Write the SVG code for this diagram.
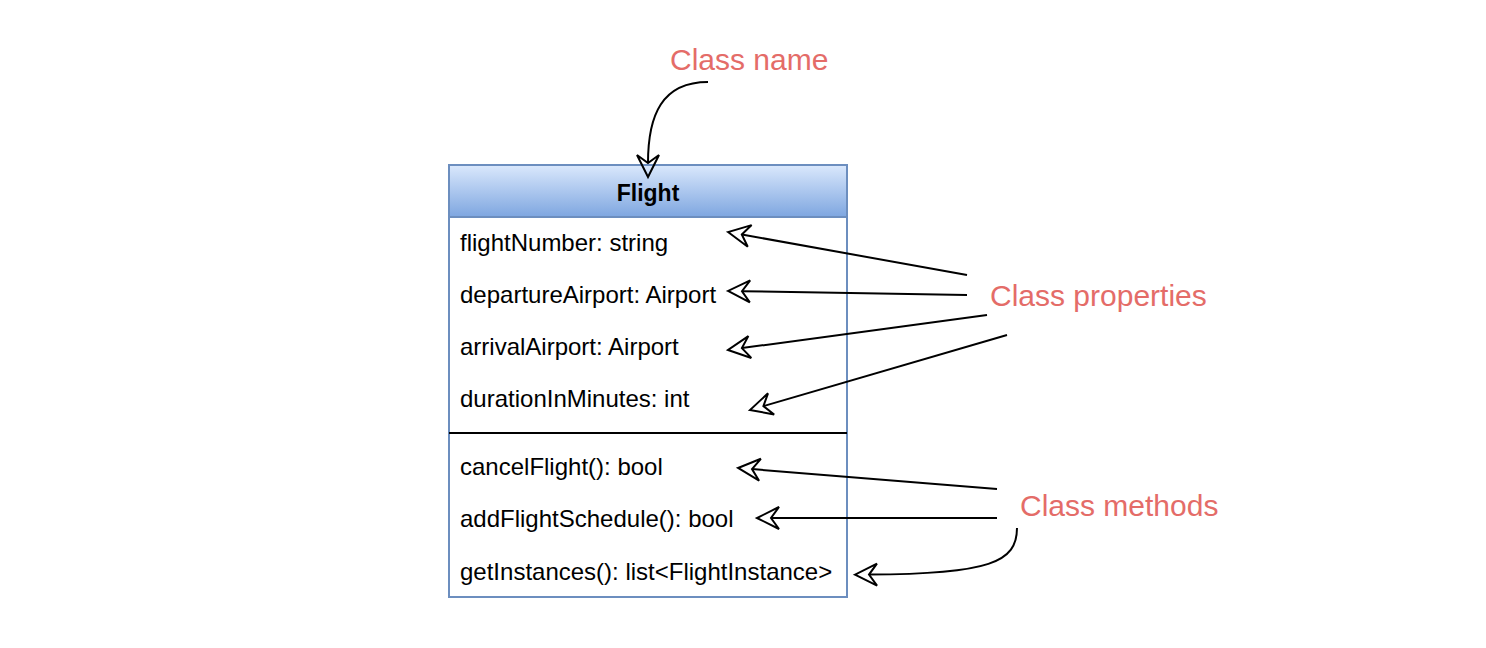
<svg xmlns="http://www.w3.org/2000/svg" width="1486" height="648" viewBox="0 0 1486 648">
<style>
.t{font-family:"Liberation Sans",Arial,sans-serif;font-size:24px;fill:#000}
.h{font-family:"Liberation Sans",Arial,sans-serif;font-size:23px;font-weight:bold;fill:#000}
.lbl{font-family:"Liberation Sans",Arial,sans-serif;font-size:30px;fill:#e46c68}
.c{fill:none;stroke:#000;stroke-width:2}
</style>
<defs>
<linearGradient id="hg" x1="0" y1="0" x2="0" y2="1">
<stop offset="0" stop-color="#dae8fc"/>
<stop offset="1" stop-color="#7ea6e0"/>
</linearGradient>
<marker id="ah" viewBox="-1 -1 24 24" markerWidth="24" markerHeight="24" markerUnits="userSpaceOnUse" refX="8" refY="11" orient="auto" overflow="visible">
<path d="M22,11 L0,0 L8,11 L0,22 Z" fill="none" stroke="#000" stroke-width="2" stroke-linejoin="miter"/>
</marker>
</defs>
<rect width="1486" height="648" fill="#fff"/>
<g id="flight-class">
<rect x="449" y="165" width="398" height="432" fill="#fff" stroke="#6c8ebf" stroke-width="2"/>
<rect x="449" y="165" width="398" height="52" fill="url(#hg)" stroke="#6c8ebf" stroke-width="2"/>
<text class="h" x="648" y="201" text-anchor="middle">Flight</text>
<text class="t" x="460" y="251">flightNumber: string</text>
<text class="t" x="460" y="303">departureAirport: Airport</text>
<text class="t" x="460" y="355">arrivalAirport: Airport</text>
<text class="t" x="460" y="407">durationInMinutes: int</text>
<line x1="449" y1="433" x2="847" y2="433" stroke="#000" stroke-width="2"/>
<text class="t" x="460" y="475">cancelFlight(): bool</text>
<text class="t" x="460" y="527">addFlightSchedule(): bool</text>
<text class="t" x="460" y="580">getInstances(): list&lt;FlightInstance&gt;</text>
</g>
<g id="label-class-name"><text class="lbl" x="670" y="70">Class name</text></g>
<g id="label-class-properties"><text class="lbl" x="990" y="306">Class properties</text></g>
<g id="label-class-methods"><text class="lbl" x="1020" y="516">Class methods</text></g>
<g id="connectors">
<path class="c" marker-end="url(#ah)" d="M708,82 C662,82 648,115 648,163"/>
<path class="c" marker-end="url(#ah)" d="M967,275 L741.8,234.5"/>
<path class="c" marker-end="url(#ah)" d="M967,295 L742,291.2"/>
<path class="c" marker-end="url(#ah)" d="M987,315 L741.9,348.1"/>
<path class="c" marker-end="url(#ah)" d="M1007,335 L763.4,406.1"/>
<path class="c" marker-end="url(#ah)" d="M997,489 L752,469.1"/>
<path class="c" marker-end="url(#ah)" d="M997,518 L771,518"/>
<path class="c" marker-end="url(#ah)" d="M1017,528 C1017,562 990,574 869,574.6"/>
</g>
</svg>
